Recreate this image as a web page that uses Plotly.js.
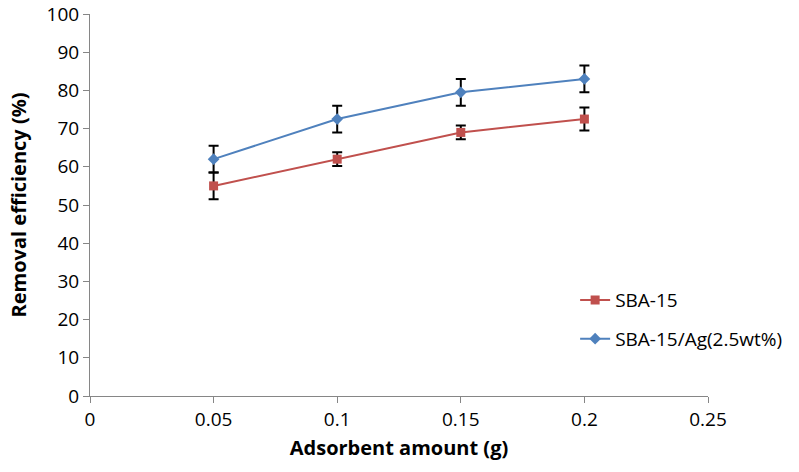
<!DOCTYPE html>
<html>
<head>
<meta charset="utf-8">
<script src="https://cdn.plot.ly/plotly-3.0.1.min.js"></script>
<style>html,body{margin:0;padding:0;background:#fff;}#chart{width:799px;height:472px;}</style>
</head>
<body>
<div id="chart"></div>
<script>
const amounts = [0.05, 0.1, 0.15, 0.2];
const sba15 = [55, 62, 69, 72.5];
const sba15Err = [3.5, 1.8, 1.8, 3];
const sba15Ag = [62, 72.5, 79.5, 83];
const sba15AgErr = [3.5, 3.5, 3.5, 3.5];
const seriesNames = ["SBA-15", "SBA-15/Ag(2.5wt%)"];
const xTicks = [0, 0.05, 0.1, 0.15, 0.2, 0.25];
const xTickText = ["0", "0.05", "0.1", "0.15", "0.2", "0.25"];
const yTicks = [0, 10, 20, 30, 40, 50, 60, 70, 80, 90, 100];

const font = "'Open Sans', 'Liberation Sans', sans-serif";

const traces = [
  {
    x: amounts, y: sba15, name: seriesNames[0], type: "scatter", mode: "lines+markers",
    legendgroup: "a",
    line: {color: "#C0504D", width: 2},
    marker: {symbol: "square", size: 9, color: "#C0504D"},
    error_y: {type: "data", array: sba15Err, visible: true, color: "#000", thickness: 2, width: 5}
  },
  {
    x: amounts, y: sba15Ag, name: seriesNames[1], type: "scatter", mode: "lines+markers",
    legendgroup: "b",
    line: {color: "#4F81BD", width: 2},
    marker: {symbol: "diamond", size: 9, color: "#4F81BD"},
    error_y: {type: "data", array: sba15AgErr, visible: true, color: "#000", thickness: 2, width: 5}
  }
];

const layout = {
  width: 799, height: 472,
  margin: {l: 90, r: 91, t: 14, b: 76},
  paper_bgcolor: "#fff", plot_bgcolor: "#fff",
  font: {family: font, size: 18, color: "#000"},
  showlegend: true,
  legend: {
    x: 0.785, y: 0.2, xanchor: "left", yanchor: "middle",
    font: {family: font, size: 19, color: "#000"},
    traceorder: "grouped", tracegroupgap: 11,
    bgcolor: "rgba(0,0,0,0)"
  },
  xaxis: {
    range: [0, 0.25], tickvals: xTicks, ticktext: xTickText,
    showgrid: false, zeroline: false, showline: true, linecolor: "#868686", linewidth: 1,
    ticks: "outside", ticklen: 6, tickcolor: "#868686",
    tickfont: {family: font, size: 19, color: "#000"},
    title: {text: "<b>Adsorbent amount (g)</b>", font: {family: font, size: 20, color: "#000"}, standoff: 10}
  },
  yaxis: {
    range: [0, 100], tickvals: yTicks,
    showgrid: false, zeroline: false, showline: true, linecolor: "#868686", linewidth: 1,
    ticks: "outside", ticklen: 6, tickcolor: "#868686",
    tickfont: {family: font, size: 19, color: "#000"},
    title: {text: "<b>Removal efficiency (%)</b>", font: {family: font, size: 20, color: "#000"}, standoff: 14}
  }
};

Plotly.newPlot("chart", traces, layout, {displayModeBar: false, staticPlot: true});
</script>
</body>
</html>
